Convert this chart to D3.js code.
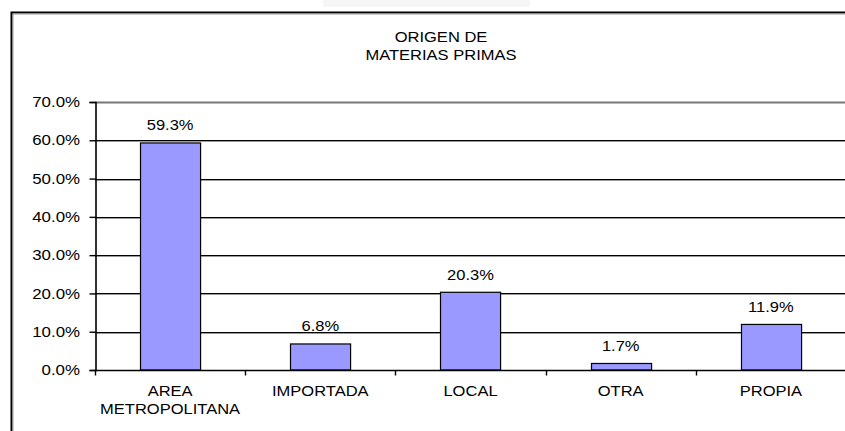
<!DOCTYPE html>
<html>
<head>
<meta charset="utf-8">
<script src="https://cdn.jsdelivr.net/npm/d3@7"></script>
<style>
  html, body { margin: 0; padding: 0; background: #fff; }
  svg { display: block; }
  text { font-family: "Liberation Sans", Arial, sans-serif; fill: #000; }
</style>
</head>
<body>
<svg id="chart" width="845" height="431"></svg>
<script>
// Chart data
const titleLines = ["ORIGEN DE", "MATERIAS PRIMAS"];
const categories = ["AREA METROPOLITANA", "IMPORTADA", "LOCAL", "OTRA", "PROPIA"];
const categoryLines = [["AREA", "METROPOLITANA"], ["IMPORTADA"], ["LOCAL"], ["OTRA"], ["PROPIA"]];
const values = [0.593, 0.068, 0.203, 0.017, 0.119];
const yTicks = [0, 0.1, 0.2, 0.3, 0.4, 0.5, 0.6, 0.7];

const svg = d3.select("#chart");
const W = 845, H = 431;
const plot = { left: 95, right: 846, top: 102, bottom: 370 };
const SX = 1.18; // horizontal text stretch

const x = d3.scaleBand()
  .domain(categories)
  .range([plot.left, plot.right])
  .paddingInner(0.6)
  .paddingOuter(0.3);

const y = d3.scaleLinear()
  .domain([0, 0.7])
  .range([plot.bottom, plot.top]);

const pct = d3.format(".1%");

// stretched text helper
function label(g, tx, ty, str, size, anchor) {
  return g.append("text")
    .attr("transform", `translate(${tx},${ty}) scale(${SX},1)`)
    .attr("text-anchor", anchor || "middle")
    .attr("font-size", size)
    .text(str);
}

// faint strip at the very top
svg.append("rect").attr("x", 323).attr("y", 0).attr("width", 207).attr("height", 7).attr("fill", "#f6f6f6");

// chart frame (left and top edges)
svg.append("path")
  .attr("d", `M11.5,${H} V12.5 H${W}`)
  .attr("fill", "none").attr("stroke", "#000").attr("stroke-width", 2);
svg.append("path")
  .attr("d", `M13,${H} V14 H${W}`)
  .attr("fill", "none").attr("stroke", "#9a9a9a").attr("stroke-width", 1);

// title
titleLines.forEach((t, i) => label(svg, 441, 42 + i * 17.6, t, 14));

// gridlines
const grid = svg.append("g");
yTicks.filter(t => t > 0 && t < 0.7).forEach(t => {
  const yy = Math.round(y(t)) + 0.5;
  grid.append("line").attr("x1", plot.left).attr("x2", W).attr("y1", yy).attr("y2", yy)
    .attr("stroke", "#000").attr("stroke-width", 1);
  grid.append("line").attr("x1", plot.left).attr("x2", W).attr("y1", yy + 1).attr("y2", yy + 1)
    .attr("stroke", "#9a9a9a").attr("stroke-width", 1);
});
// plot area top border
grid.append("line").attr("x1", plot.left).attr("x2", W)
  .attr("y1", Math.round(y(0.7)) + 0.5).attr("y2", Math.round(y(0.7)) + 0.5)
  .attr("stroke", "#777").attr("stroke-width", 2);

// bars
svg.append("g").selectAll("rect")
  .data(values)
  .join("rect")
  .attr("x", (d, i) => Math.round(x(categories[i])) + 0.5)
  .attr("y", d => y(d))
  .attr("width", x.bandwidth())
  .attr("height", d => y(0) - y(d))
  .attr("fill", "#9999ff")
  .attr("stroke", "#000")
  .attr("stroke-width", 1.2);

// value labels
values.forEach((v, i) => {
  label(svg, x(categories[i]) + x.bandwidth() / 2, y(v) - 12.5, pct(v), 14);
});

// y axis
const yAxis = svg.append("g")
  .attr("transform", `translate(${plot.left + 0.5},0)`)
  .call(d3.axisLeft(y).tickValues(yTicks).tickFormat(pct).tickSize(6).tickPadding(9));
yAxis.select(".domain").attr("stroke", "#000").attr("stroke-width", 1.6);
yAxis.selectAll(".tick line").attr("stroke", "#000").attr("stroke-width", 1.4);
yAxis.selectAll(".tick text")
  .attr("font-family", "'Liberation Sans', Arial, sans-serif")
  .attr("font-size", 14.3)
  .attr("fill", "#000")
  .attr("x", null)
  .attr("transform", `translate(-15.5,0) scale(${SX},1)`);

// x axis line and boundary ticks
const xAxisG = svg.append("g");
xAxisG.append("line")
  .attr("x1", plot.left).attr("x2", W)
  .attr("y1", y(0) + 0.5).attr("y2", y(0) + 0.5)
  .attr("stroke", "#000").attr("stroke-width", 1.6);
const bounds = categories.map(c => x(c) - x.step() * x.paddingOuter()).concat([plot.right]);
xAxisG.selectAll(".bt").data(bounds).join("line")
  .attr("x1", d => Math.round(d) + 0.5).attr("x2", d => Math.round(d) + 0.5)
  .attr("y1", y(0)).attr("y2", y(0) + 5.5)
  .attr("stroke", "#000").attr("stroke-width", 1.4);

// category labels
categoryLines.forEach((lines, i) => {
  const cx = x(categories[i]) + x.bandwidth() / 2;
  lines.forEach((t, j) => label(xAxisG, cx, 396 + j * 18, t, 14));
});
</script>
</body>
</html>
